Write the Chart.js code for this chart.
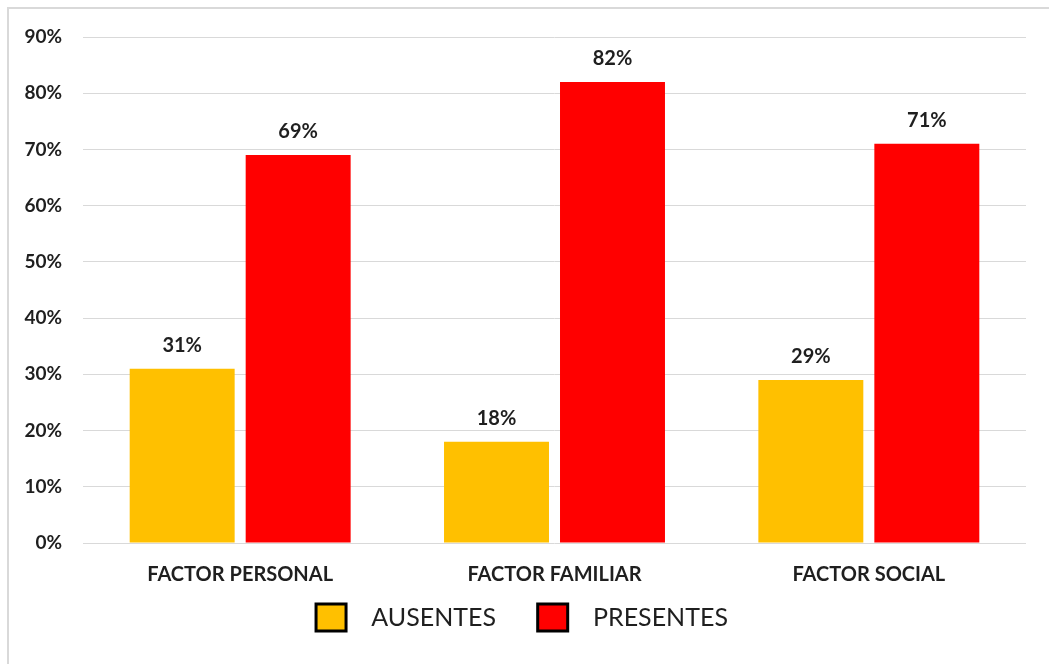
<!DOCTYPE html>
<html>
<head>
<meta charset="utf-8">
<script src="https://cdn.jsdelivr.net/npm/chart.js@4/dist/chart.umd.min.js"></script>
<style>
  html, body { margin: 0; padding: 0; background: #ffffff; }
  #wrap { position: relative; width: 1049px; height: 664px; overflow: hidden; background: #fff; }
  #frame { position: absolute; left: 7px; top: 7px; width: 1100px; height: 700px;
           border-left: 2px solid #d9d9d9; border-top: 2px solid #d9d9d9; pointer-events: none; }
</style>
</head>
<body>
<div id="wrap">
  <canvas id="c" width="1049" height="664"></canvas>
  <div id="frame"></div>
</div>
<script>
const categories = ["FACTOR PERSONAL", "FACTOR FAMILIAR", "FACTOR SOCIAL"];
const seriesNames = ["AUSENTES", "PRESENTES"];
const ausentes = [31, 18, 29];
const presentes = [69, 82, 71];
const yTicks = [0, 10, 20, 30, 40, 50, 60, 70, 80, 90];

const FONT = "Lato, 'Noto Sans', sans-serif";
const TEXT = "#1f1f1f";

const dataLabels = {
  id: "dataLabels",
  afterDatasetsDraw(chart) {
    const ctx = chart.ctx;
    ctx.save();
    ctx.font = "bold 20px " + FONT;
    ctx.fillStyle = TEXT;
    ctx.textAlign = "center";
    ctx.textBaseline = "alphabetic";
    chart.data.datasets.forEach((ds, i) => {
      const meta = chart.getDatasetMeta(i);
      meta.data.forEach((el, j) => {
        ctx.fillText(ds.data[j] + "%", el.x, el.y - 17);
      });
    });
    ctx.restore();
  }
};

new Chart(document.getElementById("c"), {
  type: "bar",
  data: {
    labels: categories,
    datasets: [
      { label: seriesNames[0], data: ausentes, backgroundColor: "#FFC000", borderWidth: 0,
        categoryPercentage: 0.738, barPercentage: 0.905 },
      { label: seriesNames[1], data: presentes, backgroundColor: "#FF0000", borderWidth: 0,
        categoryPercentage: 0.738, barPercentage: 0.905 }
    ]
  },
  options: {
    responsive: false,
    animation: false,
    layout: { padding: { top: 37, right: 23, bottom: 23, left: 18 } },
    plugins: {
      tooltip: { enabled: false },
      legend: {
        position: "bottom",
        labels: {
          boxWidth: 30,
          boxHeight: 27,
          padding: 16,
          color: TEXT,
          font: { family: FONT, size: 25, weight: "normal" },
          generateLabels(chart) {
            return chart.data.datasets.map((ds, i) => ({
              text: "  " + ds.label + (i === 0 ? "    " : ""),
              fillStyle: ds.backgroundColor,
              strokeStyle: "#000000",
              lineWidth: 3,
              hidden: false,
              datasetIndex: i,
              fontColor: TEXT
            }));
          }
        }
      }
    },
    scales: {
      x: {
        grid: { display: false },
        border: { display: false },
        ticks: { color: TEXT, font: { family: FONT, size: 20, weight: "bold" }, padding: 12 },
        afterFit(scale) { scale.height = 45; }
      },
      y: {
        min: 0,
        max: 90,
        afterBuildTicks(scale) { scale.ticks = yTicks.map(v => ({ value: v })); },
        grid: { color: "#d9d9d9", lineWidth: 1, drawTicks: false },
        border: { display: false },
        ticks: {
          color: TEXT,
          padding: 21,
          font: { family: FONT, size: 19, weight: "bold" },
          callback: v => v + "%"
        },
        afterFit(scale) { scale.width = 65; }
      }
    }
  },
  plugins: [dataLabels]
});
</script>
</body>
</html>
